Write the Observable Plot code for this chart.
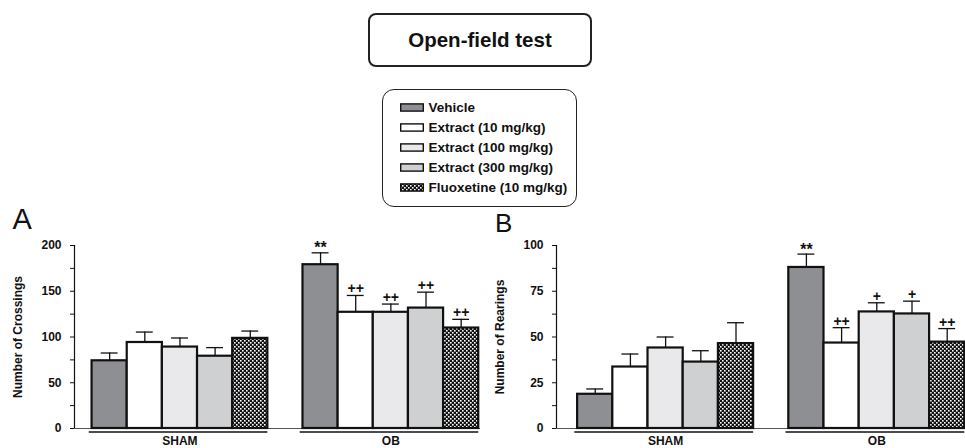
<!DOCTYPE html>
<html>
<head>
<meta charset="utf-8">
<script src="https://cdn.jsdelivr.net/npm/d3@7"></script>
<script src="https://cdn.jsdelivr.net/npm/@observablehq/plot@0.6"></script>
<style>
  html, body { margin: 0; padding: 0; background: #fff; }
  body { font-family: "Liberation Sans", Arial, Helvetica, sans-serif; color: #111; }
  #wrap { position: relative; width: 965px; height: 448px; overflow: hidden; }
  .abs { position: absolute; }
  #title { left: 368px; top: 13px; width: 224px; height: 54px; box-sizing: border-box;
    border: 2.5px solid #222; border-radius: 8px; display: flex; align-items: center;
    justify-content: center; font-weight: bold; font-size: 20.5px; }
  #legend { left: 382px; top: 89px; width: 195px; height: 118px; box-sizing: border-box;
    border: 1.5px solid #222; border-radius: 12px; padding: 7px 0 0 16.5px; }
  .row { height: 20px; display: flex; align-items: center; font-weight: bold; font-size: 13.5px; white-space: nowrap; }
  .row svg { margin-right: 5px; }
  .panel { font-size: 29px; line-height: 1; }
</style>
</head>
<body>
<svg width="0" height="0" style="position:absolute">
  <defs>
    <pattern id="fluox" patternUnits="userSpaceOnUse" width="4" height="4">
      <rect width="4" height="4" fill="#111"/>
      <rect x="0" y="0" width="1.6" height="1.6" fill="#fff"/>
      <rect x="2" y="2" width="1.6" height="1.6" fill="#fff"/>
    </pattern>
  </defs>
</svg>
<div id="wrap">
  <div id="title" class="abs">Open-field test</div>
  <div id="legend" class="abs"></div>
  <div class="abs panel" style="left:12.5px; top:204.5px; font-size:29px;">A</div>
  <div class="abs panel" style="left:495px; top:209.5px; font-size:26px;">B</div>
  <div id="chartA" class="abs" style="left:0; top:200px;"></div>
  <div id="chartB" class="abs" style="left:482px; top:200px;"></div>
</div>
<script>
// ---- data ----
const groups = ["SHAM", "OB"];
const treatments = ["Vehicle", "Extract (10 mg/kg)", "Extract (100 mg/kg)", "Extract (300 mg/kg)", "Fluoxetine (10 mg/kg)"];
const fills = ["#8e8f93", "#ffffff", "#e9e9eb", "#cfd0d2", "url(#fluox)"];

const crossingsSham = [74, 94, 89, 79, 98.5];
const crossingsShamSem = [8.5, 11.4, 9.9, 9.4, 8];
const crossingsOB = [179, 127, 127, 131.6, 109.8];
const crossingsOBSem = [13, 18.4, 9, 17.4, 9.5];
const crossingsOBMarks = ["**", "++", "++", "++", "++"];

const rearingsSham = [18.7, 33.6, 44, 36.3, 46.4];
const rearingsShamSem = [2.9, 7.1, 6, 6.2, 11.4];
const rearingsOB = [88, 46.7, 63.7, 62.6, 47.2];
const rearingsOBSem = [7.3, 8.4, 5, 7, 7.4];
const rearingsOBMarks = ["**", "++", "+", "+", "++"];

const ticksA = [0, 50, 100, 150, 200];
const minorA = [25, 75, 125, 175];
const ticksB = [0, 25, 50, 75, 100];
const minorB = [12.5, 37.5, 62.5, 87.5];

const labelA = "Number of Crossings";
const labelB = "Number of Rearings";

// ---- legend ----
const legend = document.getElementById("legend");
treatments.forEach((t, i) => {
  const row = document.createElement("div");
  row.className = "row";
  row.innerHTML = `<svg width="24" height="9"><rect x="0.7" y="0.9" width="22.6" height="7.2" fill="${fills[i]}" stroke="#111" stroke-width="1.4"/></svg><span>${t}</span>`;
  legend.appendChild(row);
});

// ---- chart builder ----
function build(shamVals, shamSem, obVals, obSem, obMarks, major, minor, label, width, xDomain) {
  const rows = [];
  groups.forEach((g, gi) => {
    const vals = gi === 0 ? shamVals : obVals;
    const sems = gi === 0 ? shamSem : obSem;
    treatments.forEach((t, ti) => {
      rows.push({group: g, treatment: t, slot: gi * 6 + ti, value: vals[ti], sem: sems[ti],
                 mark: gi === 1 ? obMarks[ti] : ""});
    });
  });
  const groupRows = groups.map((g, gi) => ({group: g, start: gi * 6, end: gi * 6 + 5}));
  const yMax = d3.max(major);
  const font = {fontWeight: "bold", fontSize: 12};
  return Plot.plot({
    width, height: 248,
    marginLeft: 74, marginRight: width === 482 ? 2 : 0, marginTop: 45, marginBottom: 20,
    style: {fontFamily: "'Liberation Sans', Arial, sans-serif", color: "#111", background: "transparent", overflow: "visible"},
    x: {type: "linear", domain: xDomain, axis: null},
    y: {domain: [0, yMax]},
    color: {type: "ordinal", domain: treatments, range: fills},
    marks: [
      Plot.ruleY([0], {stroke: "#555", strokeWidth: 1}),
      Plot.ruleX([xDomain[0]], {y1: 0, y2: yMax, stroke: "#111", strokeWidth: 1.2}),
      Plot.axisY({ticks: major, tickSize: 4, tickPadding: 9, label: null, stroke: "#111", ...font}),
      Plot.axisY({ticks: minor, tickSize: 4, tickFormat: () => "", label: null, stroke: "#111"}),
      Plot.text([label], {frameAnchor: "left", textAnchor: "middle", text: d => d, rotate: -90, dx: -56, ...font, fill: "#111"}),
      Plot.ruleX(rows, {x: d => d.slot + 0.5, y1: "value", y2: d => d.value + d.sem, stroke: "#111", strokeWidth: 1.3}),
      Plot.ruleY(rows, {y: d => d.value + d.sem, x1: d => d.slot + 0.26, x2: d => d.slot + 0.74, stroke: "#111", strokeWidth: 1.3}),
      Plot.rectY(rows, {x1: "slot", x2: d => d.slot + 1, y: "value", fill: "treatment", stroke: "#111", strokeWidth: 2.2}),
      Plot.text(rows.filter(d => d.mark.startsWith("*")), {x: d => d.slot + 0.5, y: d => d.value + d.sem, text: "mark", dy: -4.5, fontSize: 16, fontWeight: "bold", fill: "#111"}),
      Plot.text(rows.filter(d => d.mark.startsWith("+")), {x: d => d.slot + 0.5, y: d => d.value + d.sem, text: "mark", dy: -6.5, fontSize: 14, fontWeight: "bold", fill: "#111"}),
      Plot.ruleY(groupRows, {y: () => 0, x1: d => d.start - 0.08, x2: "end", dy: 3.5, stroke: "#111", strokeWidth: 1.3}),
      Plot.text(groupRows, {x: d => (d.start + d.end) / 2, y: () => 0, dy: 13, text: "group", ...font, fill: "#111"})
    ]
  });
}

document.getElementById("chartA").appendChild(
  build(crossingsSham, crossingsShamSem, crossingsOB, crossingsOBSem, crossingsOBMarks, ticksA, minorA, labelA, 482, [-0.5, 11.05]));
document.getElementById("chartB").appendChild(
  build(rearingsSham, rearingsShamSem, rearingsOB, rearingsOBSem, rearingsOBMarks, ticksB, minorB, labelB, 483, [-0.6, 11.02]));
</script>
</body>
</html>
